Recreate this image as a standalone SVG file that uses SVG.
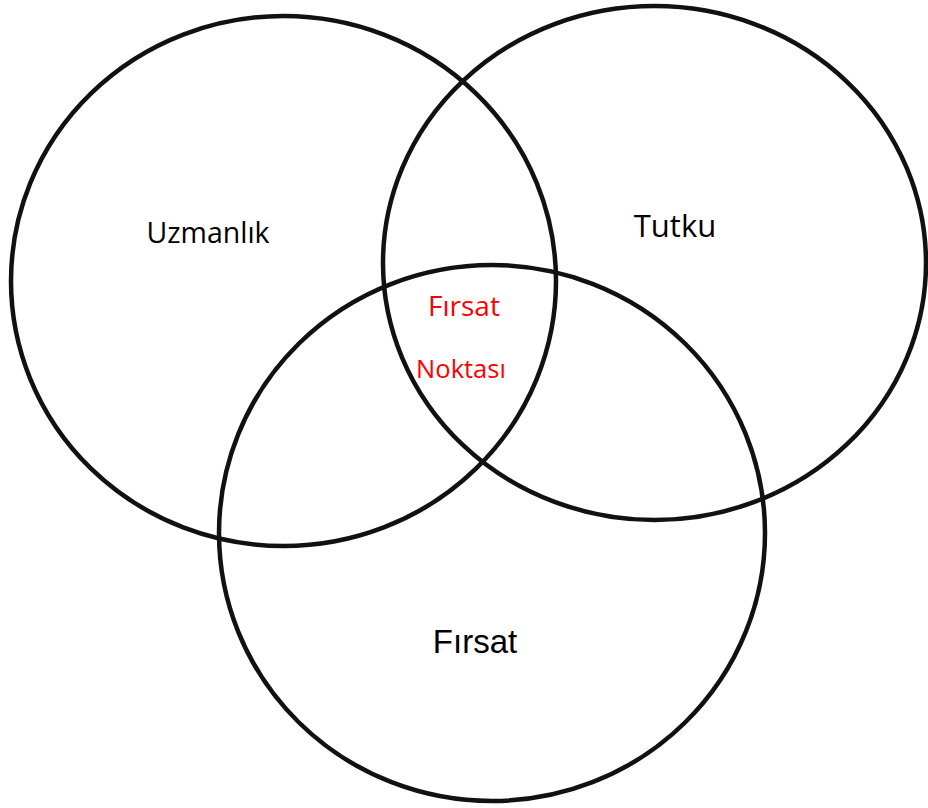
<svg xmlns="http://www.w3.org/2000/svg" width="928" height="808" viewBox="0 0 928 808">
<style>
.c{fill:none;stroke:#111;stroke-width:4.5}
.t{font-family:"Open Sans","Liberation Sans",sans-serif;fill:#000;text-anchor:middle}
.r{font-family:"Open Sans","Liberation Sans",sans-serif;fill:#f00;text-anchor:middle}
</style>
<rect width="928" height="808" fill="#fff"/>
<g id="uzmanlik"><ellipse class="c" cx="283.5" cy="281" rx="272.5" ry="265"/><text class="t" x="208" y="243" font-size="28.5">Uzmanlık</text></g>
<g id="tutku"><ellipse class="c" cx="654.5" cy="263" rx="271.5" ry="257"/><text class="t" x="675" y="237" font-size="31">Tutku</text></g>
<g id="firsat"><ellipse class="c" cx="492" cy="533" rx="273" ry="268"/><text class="t" x="475" y="653" font-size="33" style="font-family:'Liberation Sans',Arial,sans-serif">Fırsat</text></g>
<g id="firsat-noktasi"><text class="r" x="464" y="316" font-size="28">Fırsat</text><text class="r" x="461" y="378" font-size="25.5">Noktası</text></g>
</svg>
